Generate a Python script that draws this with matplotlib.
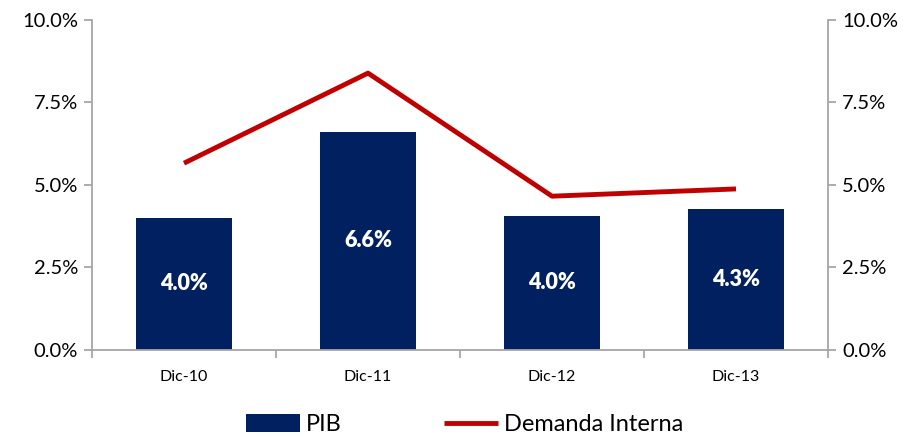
import matplotlib.pyplot as plt
import numpy as np
from matplotlib.ticker import FuncFormatter

plt.rcParams['font.family'] = ['Lato', 'DejaVu Sans']

categorias = ['Dic-10', 'Dic-11', 'Dic-12', 'Dic-13']
pib = [4.0, 6.6, 4.05, 4.27]
pib_labels = ['4.0%', '6.6%', '4.0%', '4.3%']
demanda = [5.65, 8.38, 4.65, 4.87]

azul = '#002060'
rojo = '#C00000'
gris = '#A6A6A6'

fig = plt.figure(figsize=(9.2, 4.37), dpi=100)
ax = fig.add_axes([0.1, 0.2, 0.8, 0.755])
x = np.arange(len(categorias))
ax.bar(x, pib, width=0.52, color=azul, label='PIB', zorder=2)
for xi, v, lab in zip(x, pib, pib_labels):
    ax.text(xi, v / 2, lab, ha='center', va='center', color='white',
            fontsize=15.5, fontweight='heavy', zorder=3)

ax2 = ax.twinx()
ax2.plot(x, demanda, color=rojo, lw=3.5, label='Demanda Interna', solid_capstyle='butt')

for a in (ax, ax2):
    a.set_ylim(0, 10)
    a.set_yticks([0, 2.5, 5, 7.5, 10])
    a.yaxis.set_major_formatter(FuncFormatter(lambda v, p: f'{v:.1f}%'))
    a.set_xlim(-0.5, 3.5)
    a.spines['top'].set_visible(False)
    for s in ('left', 'right', 'bottom'):
        a.spines[s].set_color(gris)
        a.spines[s].set_linewidth(1.3)
    a.tick_params(axis='y', colors=gris, labelcolor='black', labelsize=14.5,
                  length=6, width=1.3, pad=4)

ax.spines['right'].set_visible(False)
ax2.spines['left'].set_visible(False)
ax2.spines['bottom'].set_visible(False)

ax.set_xticks(x)
ax.set_xticklabels(categorias, fontsize=11.5)
ax.tick_params(axis='x', length=0, pad=15)
ax.set_xticks(np.arange(-0.5, 4, 1), minor=True)
ax.tick_params(axis='x', which='minor', length=6, width=1.3, color=gris)

h1, l1 = ax.get_legend_handles_labels()
h2, l2 = ax2.get_legend_handles_labels()
fig.legend(h1 + h2, l1 + l2, loc='lower center', bbox_to_anchor=(0.505, -0.045),
           ncol=2, frameon=False, fontsize=17, handlelength=2.3,
           handleheight=0.8, columnspacing=4.3, handletextpad=0.25)

fig.savefig('out.png', dpi=100)
